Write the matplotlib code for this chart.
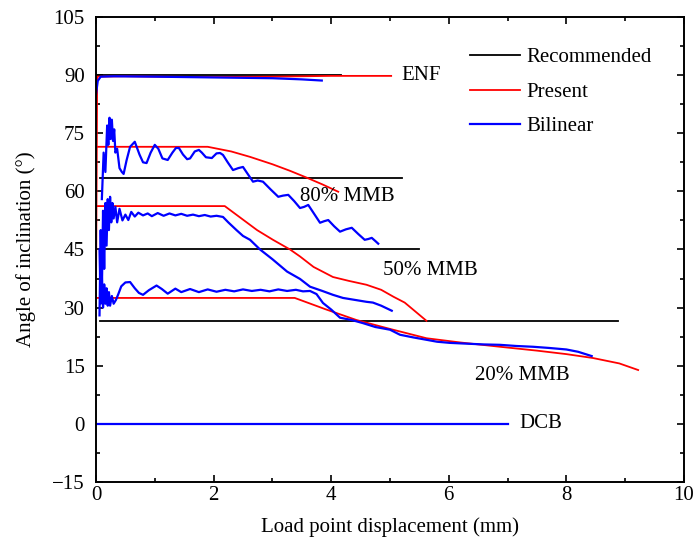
import numpy as np
import matplotlib
matplotlib.use("Agg")
import matplotlib.pyplot as plt
from matplotlib.ticker import MultipleLocator

plt.rcParams['font.family'] = ['Liberation Serif', 'DejaVu Serif']
plt.rcParams['axes.unicode_minus'] = True

# Recommended (black) lines: [x_start, x_end], constant angle
rec_enf_x = [0.0, 4.17]
rec_enf_y = [90.0, 90.0]
rec_80_x = [0.07, 5.2]
rec_80_y = [63.4, 63.4]
rec_50_x = [0.07, 5.5]
rec_50_y = [45.0, 45.0]
rec_20_x = [0.07, 8.87]
rec_20_y = [26.6, 26.6]
rec_dcb_x = [0.0, 7.0]
rec_dcb_y = [0.0, 0.0]

# Present (red)
pre_enf_x = [0.0, 0.02, 0.5, 1.0, 2.0, 3.0, 4.0, 5.02]
pre_enf_y = [32.5, 89.6, 89.7, 89.6, 89.5, 89.6, 89.8, 89.8]
pre_80_x = [0.0, 1.9, 2.3, 2.62, 3.0, 3.3, 3.59, 3.85, 4.12]
pre_80_y = [71.5, 71.5, 70.3, 68.9, 67.0, 65.3, 63.5, 61.8, 59.9]
pre_50_x = [0.0, 2.19, 2.74, 3.01, 3.3, 3.47, 3.7, 4.03, 4.3, 4.6, 4.85, 5.06, 5.25, 5.4, 5.62]
pre_50_y = [56.2, 56.2, 50.0, 47.5, 45.0, 43.2, 40.5, 37.9, 36.9, 35.9, 34.6, 32.8, 31.3, 29.4, 26.6]
pre_20_x = [0.0, 3.38, 3.9, 4.43, 5.0, 5.62, 6.2, 6.87, 7.5, 8.0, 8.45, 8.9, 9.22]
pre_20_y = [32.5, 32.5, 29.6, 26.8, 24.5, 22.1, 21.0, 19.9, 18.9, 18.0, 17.0, 15.6, 13.9]
pre_dcb_x = [0.0, 7.0]
pre_dcb_y = [0.0, 0.0]

# Bilinear (blue)
bil_enf_x = [0.0, 0.03, 0.08, 0.3, 1.0, 2.0, 3.0, 3.5, 3.84]
bil_enf_y = [85.0, 88.5, 89.6, 89.7, 89.6, 89.4, 89.2, 88.9, 88.6]
bil_80_x = [0.10, 0.13, 0.16, 0.19, 0.21, 0.23, 0.25, 0.27, 0.29, 0.31, 0.33, 0.36,
            0.40, 0.44, 0.47, 0.52, 0.58, 0.66, 0.74, 0.80, 0.86, 0.93, 1.00, 1.06,
            1.13, 1.22, 1.30, 1.36, 1.41, 1.48, 1.55, 1.60, 1.68, 1.75, 1.80, 1.87,
            1.97, 2.05, 2.11, 2.16, 2.24, 2.33, 2.42, 2.50, 2.58, 2.67, 2.75, 2.84,
            2.97, 3.10, 3.18, 3.27, 3.37, 3.47, 3.54, 3.61, 3.71, 3.81, 3.88, 3.95,
            4.05, 4.15, 4.25, 4.35, 4.46, 4.57, 4.63, 4.69, 4.75, 4.80]
bil_80_y = [58.0, 70.0, 65.0, 77.0, 72.0, 79.0, 73.5, 78.5, 73.0, 76.0, 70.0, 71.0,
            66.0, 65.0, 64.5, 68.0, 71.5, 72.8, 69.5, 67.5, 67.3, 70.0, 72.0, 71.0,
            68.5, 68.1, 70.0, 71.2, 71.2, 69.5, 68.3, 68.5, 70.3, 70.7, 70.0, 68.8,
            68.6, 69.8, 69.9, 69.4, 67.5, 65.5, 66.0, 66.3, 64.5, 62.5, 62.8, 62.5,
            60.5, 58.6, 58.9, 59.1, 57.5, 55.7, 56.0, 56.5, 54.2, 51.9, 52.3, 52.6,
            51.0, 49.6, 50.2, 50.6, 49.0, 47.5, 47.7, 48.0, 47.2, 46.5]
bil_50_x = [0.06, 0.08, 0.10, 0.12, 0.14, 0.16, 0.18, 0.20, 0.22, 0.24, 0.26, 0.28,
            0.30, 0.33, 0.36, 0.40, 0.45, 0.50, 0.55, 0.60, 0.66, 0.72, 0.80, 0.88,
            0.95, 1.05, 1.15, 1.25, 1.35, 1.45, 1.55, 1.65, 1.75, 1.85, 1.95, 2.05,
            2.16, 2.25, 2.39, 2.50, 2.62, 2.79, 3.00, 3.25, 3.47, 3.64, 3.85, 4.03,
            4.20, 4.40, 4.60, 4.71, 4.85, 5.03]
bil_50_y = [28.0, 50.0, 34.0, 55.0, 40.0, 57.0, 46.0, 58.0, 50.0, 58.6, 52.0, 57.0,
            53.0, 56.0, 52.0, 55.5, 52.5, 54.0, 52.6, 54.7, 53.5, 54.5, 53.8, 54.3,
            53.6, 54.4, 53.7, 54.3, 53.8, 54.2, 53.7, 54.0, 53.6, 53.9, 53.5, 53.7,
            53.4, 52.0, 50.0, 48.5, 47.5, 45.0, 42.5, 39.3, 37.4, 35.4, 34.3, 33.3,
            32.5, 32.0, 31.5, 31.3, 30.5, 29.2]
bil_20_x = [0.06, 0.08, 0.10, 0.12, 0.14, 0.16, 0.18, 0.20, 0.22, 0.24, 0.27, 0.30,
            0.34, 0.38, 0.43, 0.50, 0.58, 0.66, 0.73, 0.80, 0.90, 1.03, 1.12, 1.22,
            1.35, 1.45, 1.60, 1.75, 1.90, 2.05, 2.20, 2.35, 2.50, 2.65, 2.80, 2.95,
            3.10, 3.25, 3.40, 3.52, 3.64, 3.75, 3.86, 4.00, 4.15, 4.35, 4.54, 4.75,
            5.00, 5.17, 5.40, 5.62, 5.80, 6.02, 6.30, 6.60, 6.87, 7.15, 7.43, 7.70,
            8.00, 8.20, 8.43]
bil_20_y = [45.0, 31.0, 38.0, 30.0, 36.0, 31.0, 35.0, 30.5, 34.0, 30.5, 33.0, 31.0,
            32.0, 33.5, 35.5, 36.5, 36.6, 35.0, 33.8, 33.3, 34.5, 35.7, 34.8, 33.6,
            34.9, 34.0, 34.8, 34.0, 34.7, 34.1, 34.6, 34.2, 34.7, 34.3, 34.6, 34.2,
            34.7, 34.3, 34.6, 34.2, 34.3, 33.5, 31.2, 29.5, 27.4, 26.8, 26.0, 25.0,
            24.3, 23.0, 22.3, 21.7, 21.2, 20.9, 20.7, 20.5, 20.4, 20.1, 19.9, 19.6,
            19.2, 18.6, 17.5]
bil_dcb_x = [0.0, 7.0]
bil_dcb_y = [0.0, 0.0]

case_labels = ["ENF", "80% MMB", "50% MMB", "20% MMB", "DCB"]
label_pos = [(5.2, 90.0), (4.27, 58.6), (4.88, 39.5), (6.45, 12.6), (7.2, 0.0)]
label_ha = ["left", "center", "left", "left", "left"]

fs = 15
fig = plt.figure(figsize=(6.94, 5.46), dpi=100)
ax = fig.add_axes([0.1383, 0.1172, 0.8473, 0.8517])

black_lw, red_lw, blue_lw = 1.3, 1.3, 1.6
for xs, ys in [(rec_enf_x, rec_enf_y), (rec_80_x, rec_80_y), (rec_50_x, rec_50_y),
               (rec_20_x, rec_20_y), (rec_dcb_x, rec_dcb_y)]:
    ax.plot(xs, ys, color='black', lw=black_lw)
for xs, ys in [(pre_enf_x, pre_enf_y), (pre_80_x, pre_80_y), (pre_50_x, pre_50_y),
               (pre_20_x, pre_20_y), (pre_dcb_x, pre_dcb_y)]:
    ax.plot(xs, ys, color='red', lw=red_lw)
for xs, ys in [(bil_enf_x, bil_enf_y), (bil_80_x, bil_80_y), (bil_50_x, bil_50_y),
               (bil_20_x, bil_20_y), (bil_dcb_x, bil_dcb_y)]:
    ax.plot(xs, ys, color='blue', lw=blue_lw)

for text, (tx, ty), ha in zip(case_labels, label_pos, label_ha):
    ax.text(tx, ty, text, fontsize=fs, ha=ha, va='center')

# legend handles
h_rec, = ax.plot([], [], color='black', lw=black_lw)
h_pre, = ax.plot([], [], color='red', lw=red_lw)
h_bil, = ax.plot([], [], color='blue', lw=blue_lw)
ax.legend([h_rec, h_pre, h_bil], ["Recommended", "Present", "Bilinear"],
          loc='upper left', bbox_to_anchor=(0.622, 0.952), frameon=False,
          fontsize=fs, handlelength=2.4, handletextpad=0.3, labelspacing=0.72,
          borderaxespad=0)

ax.set_xlim(0, 10)
ax.set_ylim(-15, 105)
ax.xaxis.set_major_locator(MultipleLocator(2))
ax.xaxis.set_minor_locator(MultipleLocator(1))
ax.yaxis.set_major_locator(MultipleLocator(15))
ax.yaxis.set_minor_locator(MultipleLocator(7.5))
ax.tick_params(which='both', direction='in', top=True, right=True, labelsize=fs, width=1.2)
ax.tick_params(which='major', length=5)
ax.tick_params(axis='y', which='major', pad=8)
ax.tick_params(axis='x', which='major', pad=3)
ax.tick_params(which='minor', length=3)
for sp in ax.spines.values():
    sp.set_linewidth(1.4)

ax.set_xlabel("Load point displacement (mm)", fontsize=fs, labelpad=9)
ax.set_ylabel("Angle of inclination (°)", fontsize=fs, labelpad=12)

fig.savefig("out.png", dpi=100)
